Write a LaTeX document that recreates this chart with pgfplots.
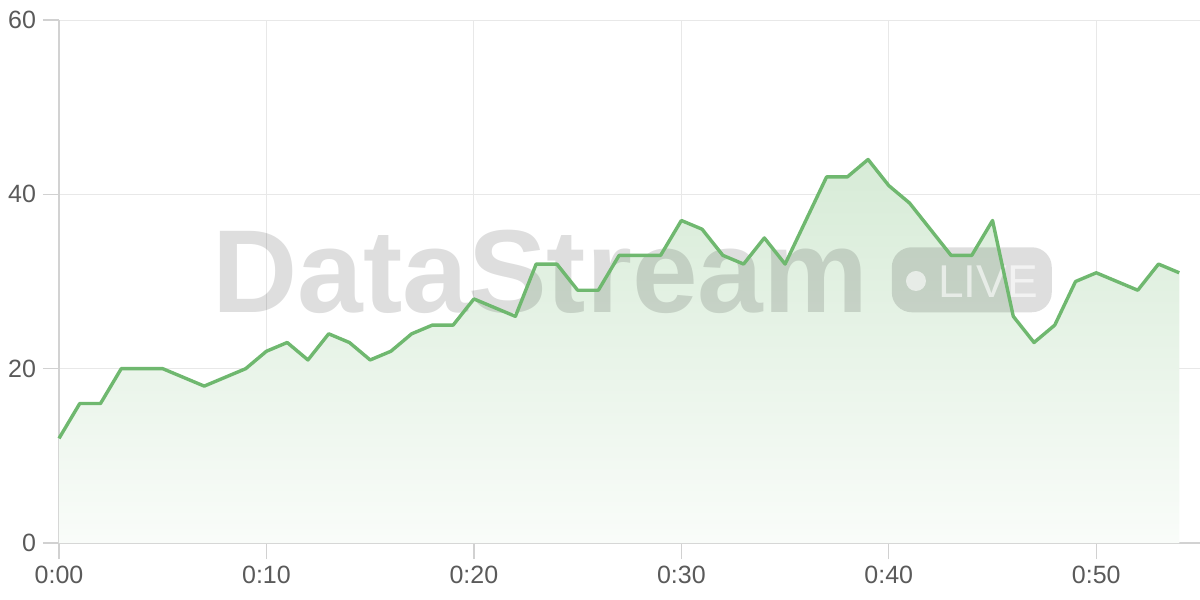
\documentclass[border=0pt]{standalone}
\usepackage{fontspec}
\setmainfont{Liberation Sans}
\usepackage{pgfplots}
\pgfplotsset{compat=1.18}

\definecolor{linegreen}{HTML}{6FB86F}
\definecolor{gridgray}{HTML}{E8E8E8}
\definecolor{axisgray}{HTML}{D2D2D2}
\definecolor{ticktext}{HTML}{5A5A5A}

\pgfplotstableread{
t v
0 12
1 16
2 16
3 20
4 20
5 20
6 19
7 18
8 19
9 20
10 22
11 23
12 21
13 24
14 23
15 21
16 22
17 24
18 25
19 25
20 28
21 27
22 26
23 32
24 32
25 29
26 29
27 33
28 33
29 33
30 37
31 36
32 33
33 32
34 35
35 32
36 37
37 42
38 42
39 44
40 41
41 39
42 36
43 33
44 33
45 37
46 26
47 23
48 25
49 30
50 31
51 30
52 29
53 32
54 31
}\viewers

\begin{document}
\begin{tikzpicture}
\begin{axis}[
    at={(0,0)}, anchor=south west,
    scale only axis,
    width=570.5pt, height=261.5pt,
    xmin=0, xmax=55,
    ymin=0, ymax=60,
    xtick={0,10,20,30,40,50},
    xticklabels={0:00,0:10,0:20,0:30,0:40,0:50},
    ytick={0,20,40,60},
    axis x line*=bottom,
    axis y line*=left,
    axis line style={-, draw=axisgray, line width=1pt},
    grid=major,
    major grid style={draw=gridgray, line width=0.5pt},
    tick align=outside,
    major tick length=8pt,
    tick style={draw=gridgray!90!black, line width=0.6pt},
    tick label style={font=\fontsize{12.5}{14}\selectfont, text=ticktext},
    /pgf/number format/assume math mode=true,
    clip=false,
]
  \addplot[draw=none, shade, top color=linegreen!28!white, bottom color=linegreen!4!white]
    table[x=t, y=v] {\viewers} \closedcycle;

  \node[anchor=base west, inner sep=0pt, text=black, text opacity=0.13,
        font=\bfseries\fontsize{59}{60}\selectfont]
    at (axis cs:7.38,26.4) {DataStream};
  \node[fill=black, fill opacity=0.13, rounded corners=10pt, minimum width=80pt,
        minimum height=32.5pt, inner sep=0pt] at (axis cs:44.0,30.2) {};
  \fill[white, fill opacity=0.6] (axis cs:41.31,30.06) circle[radius=5pt];
  \node[anchor=base west, inner sep=0pt, text=white, text opacity=0.6,
        font=\fontsize{23}{24}\selectfont]
    at (axis cs:42.37,28.2) {LIVE};

  \addplot[linegreen, line width=1.7pt, line join=round, mark=none]
    table[x=t, y=v] {\viewers};
\end{axis}
\pgfresetboundingbox
\useasboundingbox (-29.5pt,-28.5pt) rectangle (570.5pt,271.5pt);
\end{tikzpicture}
\end{document}
